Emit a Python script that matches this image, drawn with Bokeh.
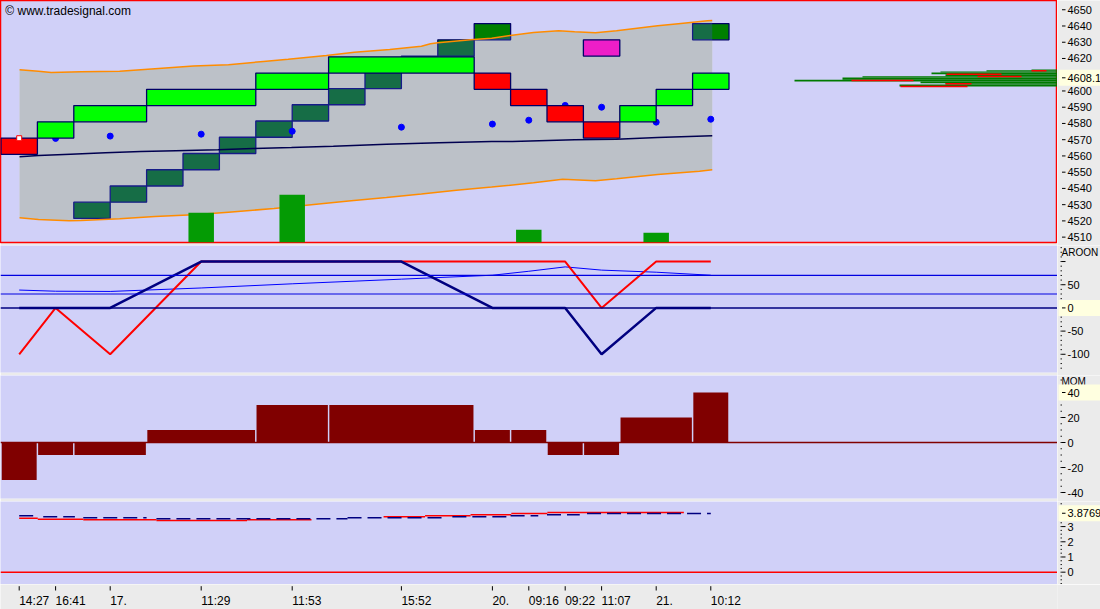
from bokeh.core.properties import value
from bokeh.embed import file_html
from bokeh.layouts import column, row
from bokeh.models import Range1d, Span
from bokeh.plotting import figure
from bokeh.resources import INLINE

# time bars (x in brick columns) and their axis labels
bar_x = [0.5, 1.5, 3.0, 5.5, 8.0, 11.0, 13.5, 14.5, 15.5, 16.5, 18.0, 19.5]
bar_label = ["14:27", "16:41", "17.", "11:29", "11:53", "15:52",
             "20.", "09:16", "09:22", "11:07", "21.", "10:12"]

# main renko bricks: first column, columns covered, low, direction
BRICK = 10
brick_col = [0, 1, 2, 4, 7, 9, 13, 14, 15, 16, 17, 18, 19]
brick_span = [1, 1, 2, 3, 2, 4, 1, 1, 1, 1, 1, 1, 1]
brick_low = [4561, 4571, 4581, 4591, 4601, 4611, 4601, 4591, 4581, 4571, 4581, 4591, 4601]
brick_up = [False, True, True, True, True, True, False, False, False, False, True, True, True]

# second brick series
brick2_col = [2, 3, 4, 5, 6, 7, 8, 9, 10, 11, 12, 13, 16, 19]
brick2_low = [4521.5, 4531.5, 4541.5, 4551.5, 4561.5, 4571.5, 4581.5, 4591.5,
              4601.5, 4611.5, 4621.5, 4631.5, 4621.5, 4631.5]
brick2_up = [True] * 12 + [False, True]

# close dots and first bar marker
dot_x = bar_x[1:]
dot_price = [4570.8, 4572.2, 4573.4, 4575.2, 4577.7, 4579.6, 4582.0, 4591.1, 4590.0, 4580.8, 4582.6]
first_price = 4570.9

# volume
vol_x = [5.5, 8.0, 14.5, 18.0]
vol = [1230, 1970, 525, 400]

# bands
upper_x = [0.51, 1.03, 1.38, 2.20, 3.26, 4.23, 5.29, 6.25, 7.21, 7.89, 8.94, 9.71, 10.68,
           11.55, 11.80, 12.0, 12.98, 13.48, 13.99, 14.63, 15.32, 15.76, 16.33, 16.91,
           18.04, 18.61, 19.41, 19.54]
upper_y = [4613.1, 4612.2, 4611.4, 4611.8, 4612.2, 4613.7, 4615.3, 4616.1, 4618.2, 4619.6,
           4621.9, 4623.9, 4625.6, 4627.5, 4629.1, 4629.7, 4631.7, 4632.5, 4634.2, 4636.0,
           4637.1, 4636.5, 4635.8, 4637.1, 4640.1, 4641.4, 4643.2, 4643.4]
lower_x = [0.51, 1.03, 1.87, 2.20, 3.26, 4.23, 5.29, 6.25, 7.50, 8.66, 9.62, 10.59, 11.55,
           12.51, 13.48, 14.63, 15.43, 16.33, 16.91, 18.04, 19.19, 19.54]
lower_y = [4521.9, 4520.9, 4520.1, 4520.3, 4521.3, 4522.7, 4523.8, 4525.4, 4527.6, 4530.3,
           4532.4, 4534.4, 4536.5, 4538.9, 4540.8, 4543.5, 4545.7, 4544.7, 4546.0, 4548.6,
           4550.6, 4551.5]
mid_x = [0.51, 1.03, 1.91, 2.87, 3.84, 4.80, 5.96, 6.92, 7.98, 9.13, 10.59, 12.03, 13.48,
         14.05, 15.76, 16.91, 18.04, 19.54]
mid_y = [4559.5, 4560.3, 4561.1, 4561.9, 4562.7, 4563.2, 4563.8, 4564.6, 4565.2, 4566.0,
         4567.2, 4568.1, 4568.9, 4568.9, 4570.0, 4570.3, 4571.4, 4572.4]

# volume profile (length counted from the right edge)
prof_top = [4613.2, 4612.8, 4612.0, 4611.4, 4610.3, 4609.1, 4608.3, 4606.9, 4605.9, 4604.8, 4604.0]
prof_bottom = [4612.8, 4612.0, 4611.4, 4610.3, 4609.1, 4608.3, 4606.9, 4605.9, 4604.8, 4604.0, 4602.8]
prof_len = [26, 71, 117, 126, 112, 195, 215, 263, 137, 112, 158]
prof_red_price = [4612.4, 4610.3, 4608.9, 4606.5, 4604.4, 4602.8]
prof_red_from = [11, 56, 36, 144, 86, 90]
prof_red_to = [26, 111, 80, 206, 112, 157]
last_price = 4608.1

# aroon
aroon_up = [-100, 0, -100, 100, 100, 100, 100, 100, 100, 0, 100, 100]
aroon_down = [0, 0, 0, 100, 100, 100, 0, 0, 0, -100, 0, 0]
aroon_avg = [38.5, 36, 35.5, 43, 52, 62, 70.5, 79, 88.5, 81.5, 77, 70.5]
aroon_levels = [70, 30]
aroon_last = 0

# momentum
mom_col = [0, 1, 2, 4, 7, 9, 13, 14, 15, 16, 17, 19]
mom_span = [1, 1, 2, 3, 2, 4, 1, 1, 1, 1, 2, 1]
mom = [-30, -10, -10, 10, 30, 30, 10, 10, -10, -10, 20, 40]
mom_last = 40

# lower indicator
ind_red_x0 = [0.50, 1.01, 2.26, 4.27, 6.76, 10.51, 11.65, 12.90, 14.02, 15.01]
ind_red_x1 = [1.01, 2.26, 4.27, 6.76, 8.53, 11.65, 12.90, 14.02, 15.01, 18.76]
ind_red = [3.55, 3.49, 3.45, 3.40, 3.45, 3.65, 3.72, 3.78, 3.86, 3.92]
ind_navy_x0 = [0.50, 1.16, 2.26, 4.27, 9.52, 12.40, 14.00, 15.00, 16.10]
ind_navy_x1 = [0.95, 2.03, 4.00, 9.52, 12.13, 14.00, 14.76, 15.90, 19.50]
ind_navy = [3.72, 3.65, 3.58, 3.51, 3.58, 3.65, 3.72, 3.78, 3.86]
ind_last = 3.8769

# value scales of the right-hand axes
price_ticks = list(range(4510, 4651, 10))
aroon_ticks = [-100, -50, 0, 50, 100]
aroon_labels = ["-100", "-50", "", "50", ""]
aroon_minor = list(range(-130, 135, 10))
mom_ticks = [-40, -20, 0, 20, 40]
mom_labels = ["-40", "-20", "0", "20", ""]
mom_minor = list(range(-40, 55, 5))
ind_ticks = [0, 1, 2, 3]
ind_minor = [i * 0.25 for i in range(-3, 19)]

FONT = "Liberation Sans"
FSIZE = "11px"
BG = "#D0D0F8"
BORDER = "#EBEBEB"
OUTLINE = "#000066"
FRAME_W = 1057
SIDE_W = 43
GAP = 3
TAG_PX = 8

x_range = Range1d(-0.0137, 29.025)


def make_panel(frame_h, y_range, gap=GAP):
    p = figure(frame_width=FRAME_W, frame_height=frame_h, x_range=x_range, y_range=y_range,
               x_axis_location=None, y_axis_location=None,
               output_backend="svg", toolbar_location=None, tools="",
               background_fill_color=BG, border_fill_color=BORDER,
               min_border_left=0, min_border_right=0, min_border_top=0, min_border_bottom=gap)
    p.grid.visible = False
    p.outline_line_color = None
    return p


def make_side(frame_h, y_range, ticks, labels, minor=None, gap=GAP):
    # the side strip also covers the gap under its panel
    span = y_range.end - y_range.start
    ext = gap * span / frame_h
    s = figure(frame_width=SIDE_W, frame_height=frame_h + gap, x_range=Range1d(0, SIDE_W),
               y_range=Range1d(y_range.start - ext, y_range.end),
               x_axis_location=None, y_axis_location=None,
               output_backend="svg", toolbar_location=None, tools="",
               background_fill_color=BORDER, border_fill_color=BORDER,
               min_border_left=0, min_border_right=0, min_border_top=0, min_border_bottom=0)
    s.grid.visible = False
    s.outline_line_color = None
    if minor:
        s.segment(x0=3.0, x1=4.5, y0=minor, y1=minor, line_color="#202020", line_width=1)
    s.segment(x0=4.5, x1=8, y0=ticks, y1=ticks, line_color="black", line_width=1)
    s.text(x=10, y=ticks, text=labels, text_font=value(FONT), text_font_size=value(FSIZE),
           text_baseline="middle", text_align="left", text_color="black")
    return s, frame_h / span


def side_tag(s, y, text, px_per_unit):
    dy = TAG_PX / px_per_unit
    s.quad(left=1, right=SIDE_W, bottom=y - dy, top=y + dy, fill_color="#FFFFE0", line_color=None)
    s.segment(x0=4.5, x1=8, y0=y, y1=y, line_color="black", line_width=1)
    s.text(x=10, y=[y], text=[text], text_font=value(FONT), text_font_size=value(FSIZE),
           text_baseline="middle", text_align="left", text_color="black")


def side_title(s, y, text):
    s.text(x=4, y=[y], text=[text], text_font=value(FONT), text_font_size=value("10px"),
           text_baseline="middle", text_align="left", text_color="black")


# ---- price panel
H1 = 242
y1 = Range1d(4506.7, 4655.7)
p1 = make_panel(H1, y1)
p1.outline_line_color = "red"
p1.outline_line_width = 1.5
p1.extra_y_ranges = {"vol": Range1d(0, 10000)}
p1.extra_x_ranges = {"prof": Range1d(FRAME_W, 0)}

band_x = upper_x + lower_x[::-1]
band_y = upper_y + lower_y[::-1]
p1.patch(band_x, band_y, fill_color="#FFFFC8", line_color=None)

up2 = [i for i, u in enumerate(brick2_up) if u]
dn2 = [i for i, u in enumerate(brick2_up) if not u]
p1.quad(left=[brick2_col[i] for i in up2], right=[brick2_col[i] + 1 for i in up2],
        bottom=[brick2_low[i] for i in up2], top=[brick2_low[i] + BRICK for i in up2],
        fill_color="#007F00", line_color=OUTLINE, line_width=1.3)
p1.patch(band_x, band_y, fill_color="#3F4DC8", fill_alpha=0.35, line_color=None)

p1.line(upper_x, upper_y, line_color="#FF8C00", line_width=1.5)
p1.line(lower_x, lower_y, line_color="#FF8C00", line_width=1.5)
p1.line(mid_x, mid_y, line_color="#000050", line_width=1.5)

p1.scatter(dot_x, dot_price, size=6, color="#0000FF")
p1.vbar(x=vol_x, width=0.7, top=vol, bottom=0, y_range_name="vol",
        fill_color="#049B04", line_color=None)

p1.quad(left=brick_col, right=[c + s for c, s in zip(brick_col, brick_span)],
        bottom=brick_low, top=[b + BRICK for b in brick_low],
        fill_color=["#00FF00" if u else "#FF0000" for u in brick_up],
        line_color=OUTLINE, line_width=1.3)
p1.quad(left=[brick2_col[i] for i in dn2], right=[brick2_col[i] + 1 for i in dn2],
        bottom=[brick2_low[i] for i in dn2], top=[brick2_low[i] + BRICK for i in dn2],
        fill_color="#EE1EC8", line_color=OUTLINE, line_width=1.3)
p1.scatter([bar_x[0]], [first_price], marker="square", size=5,
           fill_color="white", line_color="red", line_width=1)

p1.quad(left=0, right=prof_len, bottom=prof_bottom, top=prof_top,
        x_range_name="prof", fill_color="#007A00", line_color=None)
p1.segment(x0=prof_red_from, x1=prof_red_to, y0=prof_red_price, y1=prof_red_price,
           x_range_name="prof", line_color="red", line_width=1.5)

p1.text(x=[0.12], y=[4649.5], text=["\u00a9 www.tradesignal.com"],
        text_font=value(FONT), text_font_size=value("12px"),
        text_baseline="middle", text_color="black")

s1, k1 = make_side(H1, y1, price_ticks, [str(t) for t in price_ticks])
side_tag(s1, last_price, "4608.1", k1)

# ---- aroon panel
H2 = 127
y2 = Range1d(-139.3, 134.6)
p2 = make_panel(H2, y2)
for lvl in aroon_levels:
    p2.add_layout(Span(location=lvl, dimension="width", line_color="#0000E0", line_width=1.2))
p2.add_layout(Span(location=0, dimension="width", line_color="#000080", line_width=1.5))
p2.line(bar_x, aroon_avg, line_color="#0000FF", line_width=1)
p2.line(bar_x, aroon_up, line_color="#FF0000", line_width=2)
p2.line(bar_x, aroon_down, line_color="#000080", line_width=2.5)

s2, k2 = make_side(H2, y2, aroon_ticks, aroon_labels, minor=aroon_minor)
side_title(s2, 119, "AROON")
side_tag(s2, aroon_last, "0", k2)

# ---- momentum panel
H3 = 123
y3 = Range1d(-44.8, 53.6)
p3 = make_panel(H3, y3)
p3.add_layout(Span(location=0, dimension="width", line_color="#800000", line_width=1.5))
p3.quad(left=[c + 0.02 for c in mom_col], right=[c + s - 0.02 for c, s in zip(mom_col, mom_span)],
        bottom=0, top=mom, fill_color="#800000", line_color=None)

s3, k3 = make_side(H3, y3, mom_ticks, mom_labels, minor=mom_minor)
side_title(s3, 48.8, "MOM")
side_tag(s3, mom_last, "40", k3)

# ---- lower indicator panel
H4 = 83
y4 = Range1d(-0.81, 4.65)
p4 = make_panel(H4, y4, gap=0)
p4.add_layout(Span(location=0, dimension="width", line_color="#FF0000", line_width=1.5))
p4.segment(x0=ind_red_x0, x1=ind_red_x1, y0=ind_red, y1=ind_red, line_color="#FF0000", line_width=1.5)
p4.segment(x0=ind_navy_x0, x1=ind_navy_x1, y0=ind_navy, y1=ind_navy,
           line_color="#000080", line_width=1.5, line_dash="14 6")

s4, k4 = make_side(H4, y4, ind_ticks, [str(t) for t in ind_ticks], minor=ind_minor, gap=0)
side_tag(s4, ind_last, "3.8769", k4)

# ---- time axis strip
strip = figure(frame_width=FRAME_W, frame_height=25, x_range=x_range, y_range=Range1d(0, 25),
               x_axis_location=None, y_axis_location=None,
               output_backend="svg", toolbar_location=None, tools="",
               background_fill_color=BORDER, border_fill_color=BORDER,
               min_border_left=0, min_border_right=SIDE_W, min_border_top=0, min_border_bottom=0)
strip.grid.visible = False
strip.outline_line_color = None
strip.segment(x0=bar_x, x1=bar_x, y0=23.3, y1=19, line_color="black", line_width=1)
strip.text(x=bar_x, y=9, text=bar_label, text_font=value(FONT),
           text_font_size=value("12px"), text_baseline="middle", text_align="left",
           text_color="black")

layout = column(row(p1, s1), row(p2, s2), row(p3, s3), row(p4, s4), strip, spacing=0)
open("out.html", "w").write(file_html(layout, INLINE))
